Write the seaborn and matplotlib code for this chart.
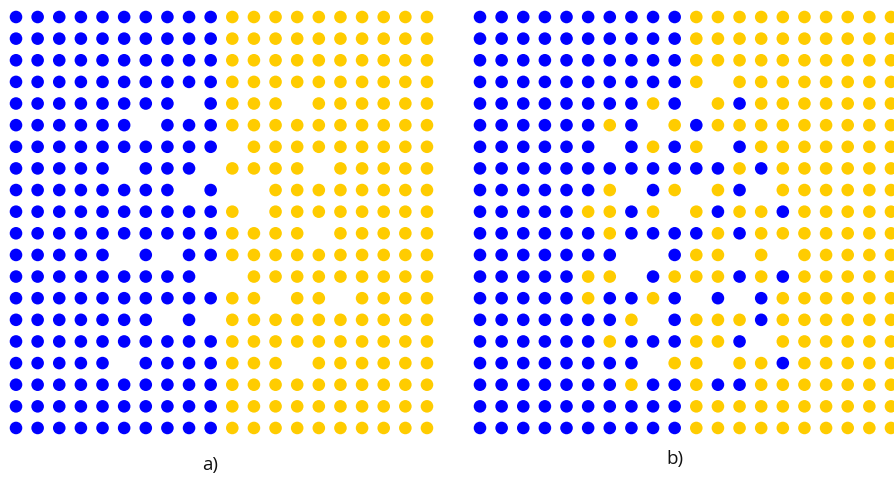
import matplotlib
matplotlib.use("Agg")
import matplotlib.pyplot as plt
import seaborn as sns
import pandas as pd

# B = blue, Y = yellow, . = empty
grid_a = [
    "BBBBBBBBBBYYYYYYYYYY",
    "BBBBBBBBBBYYYYYYYYYY",
    "BBBBBBBBBBYYYYYYYYYY",
    "BBBBBBBBBBYYYYYYYYYY",
    "BBBBBBBB.BYYY.YYYYYY",
    "BBBBBB.BBBYYYYYYYYYY",
    "BBBBBBBBBB.YYYYYYYYY",
    "BBBBB.BBB.YYYY.YYYYY",
    "BBBBBBBB.B..YYYYYYYY",
    "BBBBBBBBBBY.YYYYYYYY",
    "BBBBBBBBBBYYYY.YYYYY",
    "BBBBB.B.BBYYYYYYYYYY",
    "BBBBBBBBB..YYYYYYYYY",
    "BBBBBBBBBBYY.YY.YYYY",
    "BBBBBBB.B.YYYYYYYYYY",
    "BBBBBBBBBBYYYYYYYYYY",
    "BBBBB.BBBBYYY.YYYYYY",
    "BBBBBBBBBBYYYYYYYYYY",
    "BBBBBBBBBBYYYYYYYYYY",
    "BBBBBBBBBBYYYYYYYYYY",
]

grid_b = [
    "BBBBBBBBBBYYYYYYYYYY",
    "BBBBBBBBBBYYYYYYYYYY",
    "BBBBBBBBBBYYYYYYYYYY",
    "BBBBBBBBBBY.YYYYYYYY",
    "BBBBBBBBYB.YBYYYYYYY",
    "BBBBBBYB.YBYYYYYYYYY",
    "BBBBBB.BYBY.BYYYYYYY",
    "BBBBBBBBBBBBYBYYYYYY",
    "BBBBBBY.BY.YB.YYYYYY",
    "BBBBBYYBY.YBYYBYYYYY",
    "BBBBBBYBBBBYBYYYYYYY",
    "BBBBBBB..BYY.Y.YYYYY",
    "BBBBBYY.BYYYBYBYYYYY",
    "BBBBBYBBYB.B.BYYYYYY",
    "BBBBBBBY.BYYYBYYYYYY",
    "BBBBBBYBBBYYB.YYYYYY",
    "BBBBBBBB.YY.YYBYYYYY",
    "BBBBBBBYBBYBBYYYYYYY",
    "BBBBBBBBBBYYYYYYYYYY",
    "BBBBBBBBBBYYYYYYYYYY",
]

panel_labels = ["a)", "b)"]
colors = {"B": "#0000FF", "Y": "#FFCC00"}


def to_frame(grid):
    recs = []
    for r, row in enumerate(grid):
        for c, ch in enumerate(row):
            if ch in colors:
                recs.append({"col": c, "row": r, "kind": ch})
    return pd.DataFrame(recs)


W, H = 894, 478
fig = plt.figure(figsize=(W / 100, H / 100), dpi=100)
step = 21.63
lefts = [16 - step / 2, 480 - step / 2]
top = 17 - step / 2
label_pos = [(210, 465), (675, 459)]

for grid, left, lab, (lx, ly) in zip([grid_a, grid_b], lefts, panel_labels, label_pos):
    w = 20 * step
    ax = fig.add_axes([left / W, (H - top - w) / H, w / W, w / H])
    df = to_frame(grid)
    sns.scatterplot(data=df, x="col", y="row", hue="kind", palette=colors,
                    s=82, linewidth=0, legend=False, ax=ax, clip_on=False)
    ax.set_xlim(-0.5, 19.5)
    ax.set_ylim(19.5, -0.5)
    ax.axis("off")
    fig.text(lx / W, 1 - ly / H, lab, ha="center", va="center", fontsize=13.5,
             color="#111111", family="Open Sans")

fig.savefig("out.png", dpi=100)
